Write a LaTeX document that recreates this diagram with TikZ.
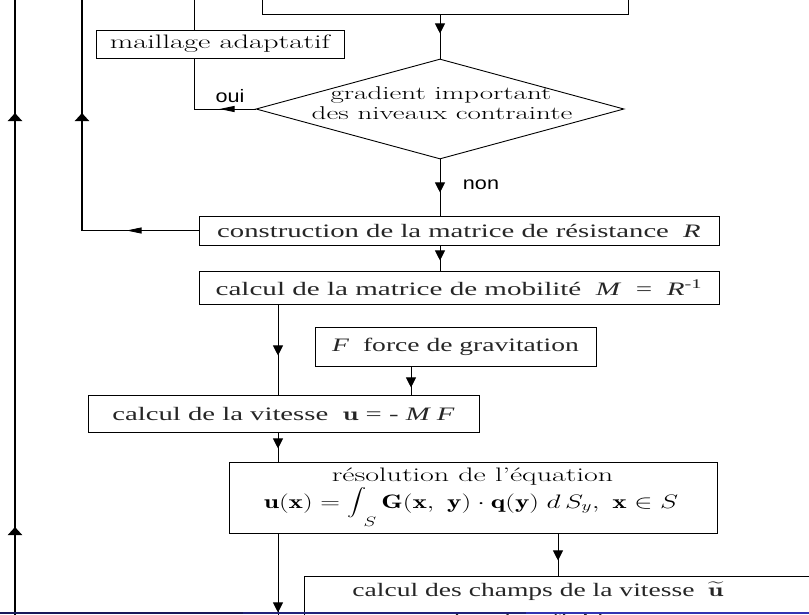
\RequirePackage{fix-cm}
\documentclass[tikz,border=0pt]{standalone}
\usepackage{fontspec}
\usepackage{graphicx}
\DeclareFontShape{OMX}{cmex}{m}{n}{<-> cmex10}{}
\newfontfamily\tms{Liberation Serif}
\newfontfamily\hlv{Liberation Sans}
\usetikzlibrary{shapes.geometric,arrows.meta,decorations.markings}
\definecolor{bardark}{RGB}{25,25,90}
\definecolor{barmid}{RGB}{34,34,122}
\definecolor{barlight}{RGB}{51,51,178}
\newcommand\hs[2]{\scalebox{#1}[1]{#2}}
\newcommand\myint{\mathop{\vcenter{\hbox{\scalebox{0.7}{$\displaystyle\int$}}}}\nolimits}
\begin{document}
\begin{tikzpicture}[x=1pt,y=-1pt,
  flowbox/.style={draw, line width=0.9pt, inner sep=0pt, rectangle},
  ftimes/.style={font=\fontsize{19}{22}\selectfont\tms, text=black!85},
  fmodern/.style={font=\fontsize{19.5}{23}\selectfont},
  fmodernd/.style={font=\fontsize{18.5}{20}\selectfont},
  fsans/.style={font=\fontsize{18}{20}\selectfont\hlv},
  conn/.style={line width=0.9pt},
  thickconn/.style={line width=2pt},
  va/.style={postaction={decorate,decoration={markings,mark=at position #1 with {\arrow{Triangle[length=10pt,width=10pt]}}}}},
  ha/.style={postaction={decorate,decoration={markings,mark=at position #1 with {\arrow{Triangle[length=15pt,width=6pt]}}}}},
  ta/.style={postaction={decorate,decoration={markings,mark=at position #1 with {\arrow{Triangle[length=8pt,width=14pt]}}}}},
]
\useasboundingbox (0,0) rectangle (809,614);

% boxes
\node[flowbox, minimum width=366pt, minimum height=60pt] (top) at (445,-16) {};
\node[flowbox, fmodern, minimum width=248pt, minimum height=28pt] (mail) at (220,44) {\hs{1.56}{maillage adaptatif}};
\node[draw, diamond, line width=0.9pt, inner sep=0pt, minimum width=368pt, minimum height=100pt] (dia) at (440,109) {};
\node[fmodernd, anchor=base] (diaA) at (441,99) {\hs{1.57}{gradient important}};
\node[fmodernd, anchor=base] (diaB) at (442,119) {\hs{1.57}{des niveaux contrainte}};
\node[flowbox, ftimes, minimum width=520pt, minimum height=29pt] (cons) at (459,230.5) {\hs{1.51}{construction de la matrice de résistance\enspace\textit{R}}};
\node[flowbox, ftimes, minimum width=520pt, minimum height=33pt] (mob) at (459,287.5) {\hs{1.53}{calcul de la matrice de mobilité\enspace\textit{M}\enspace=\enspace\textit{R}\textsuperscript{-1}}};
\node[flowbox, ftimes, minimum width=281pt, minimum height=39pt] (fbox) at (455.5,346.5) {\hs{1.45}{\textit{F}\enspace force de gravitation}};
\node[flowbox, ftimes, minimum width=391pt, minimum height=37pt] (vit) at (283.5,413.5) {\hs{1.51}{calcul de la vitesse\enspace$\mathbf{u}$ = - \textit{M F}}};
\node[flowbox, minimum width=488pt, minimum height=71pt] (res) at (473,497.5) {};
\node[fmodern, anchor=base] (resA) at (472.5,481) {\hs{1.54}{résolution de l’équation}};
\node[fmodern, anchor=base] (resB) at (471,508) {\hs{1.4}{$\displaystyle \mathbf{u}(\mathbf{x}) = \myint_{\mkern-3mu\raisebox{-8pt}{$\scriptstyle S$}} \mathbf{G}(\mathbf{x},\ \mathbf{y})\cdot\mathbf{q}(\mathbf{y})\; d\,S_y,\ \mathbf{x}\in S$}};
\node[flowbox, minimum width=530pt, minimum height=64pt, anchor=north west] (champ) at (304,576) {};
\node[ftimes, anchor=base] (champA) at (538,596) {\hs{1.45}{calcul des champs de la vitesse\enspace$\widetilde{\mathbf{u}}$}};
\node[ftimes, anchor=base] (champB) at (531,626) {\hs{1.45}{dans le\quad fluide}};

% labels
\node[fsans, anchor=base] (oui) at (230,102) {\hs{1.2}{oui}};
\node[fsans, anchor=base] (non) at (481,189) {\hs{1.2}{non}};

% coordinates
\coordinate (up1) at (194,-20);
\coordinate (up2) at (82,-20);
\coordinate (up3) at (15,-20);
\coordinate (dn3) at (15,640);
\coordinate (xl) at (278,0);
\coordinate (xf) at (411,0);
\coordinate (xr) at (558,0);
\coordinate (dn1) at (278,640);

% connectors
\draw[conn, va=19pt] (dia.north |- top.south) -- (dia.north);
\draw[conn, ha=36pt] (dia.west) -- (dia.west -| up1) -- (mail.south -| up1);
\draw[conn] (mail.north -| up1) -- (up1);
\draw[conn, va=33pt] (dia.south) -- (dia.south |- cons.north);
\draw[conn, ha=72pt] (cons.west) -- (cons.west -| up2);
\draw[thickconn, ta=117.5pt] (cons.west -| up2) -- (up2);
\draw[thickconn, ta=113pt, ta=527pt] (dn3) -- (up3);
\draw[conn, va=15pt] (cons.south -| dia.south) -- (mob.north -| dia.south);
\draw[conn, va=51pt] (mob.south -| xl) -- (vit.north -| xl);
\draw[conn, va=21pt] (fbox.south -| xf) -- (vit.north -| xf);
\draw[conn, va=16pt] (vit.south -| xl) -- (res.north -| xl);
\draw[conn, va=79pt] (res.south -| xl) -- (dn1);
\draw[conn, va=27pt] (res.south -| xr) -- (champ.north -| xr);

% footer bar
\fill[bardark] (0,611.5) rectangle (243,614);
\fill[barmid] (243,611.5) rectangle (526,614);
\fill[barlight] (526,611.5) rectangle (809,614);
\end{tikzpicture}
\end{document}
